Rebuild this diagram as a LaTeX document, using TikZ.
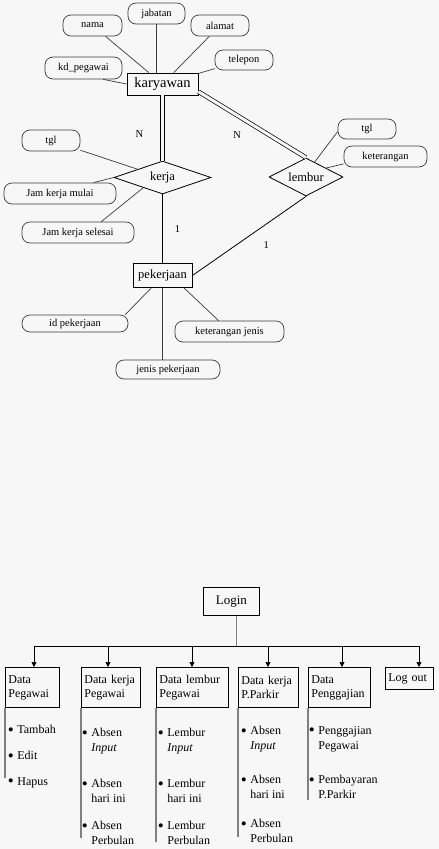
\documentclass[tikz,border=0pt]{standalone}
\usepackage{fontspec}
\setmainfont{Liberation Serif}
\usetikzlibrary{arrows.meta, shapes.geometric}
\definecolor{pagebg}{HTML}{F7F7F7}
\definecolor{linkgray}{HTML}{3C3C3C}
\definecolor{railgray}{HTML}{808080}
\newcommand{\dotitem}{\llap{\raisebox{-1.5pt}{\fontsize{17}{15}\selectfont\textbullet}\hspace{3.5pt}}}

\begin{document}
\begin{tikzpicture}[
  x=1pt, y=-1pt,
  line width=0.8pt,
  ent/.style  ={draw, rectangle, inner sep=2pt, minimum height=22pt},
  attr/.style ={draw=linkgray, rounded corners=8pt, inner sep=1pt, minimum height=21pt,
                line width=0.7pt, font=\fontsize{10.5}{12}\selectfont},
  rel/.style  ={draw, diamond, inner sep=0pt, aspect=2.5, font=\fontsize{12.5}{14}\selectfont},
  link/.style ={draw=linkgray, line width=0.7pt},
  dbl/.style  ={double=pagebg, double distance=3pt, line width=0.7pt},
  card/.style ={font=\fontsize{10.5}{12}\selectfont, inner sep=0pt},
  menu/.style ={draw, rectangle, inner sep=3pt, align=left, anchor=north west,
                font=\fontsize{12}{14}\selectfont},
  arr/.style  ={-{Triangle[length=5pt, width=5pt]}, line width=0.7pt},
  rail/.style ={draw=railgray, line width=1.6pt},
  item/.style ={anchor=north west, align=left, inner sep=0pt, font=\fontsize{12}{15}\selectfont},
]
\fill[pagebg] (0,0) rectangle (439,849);
\useasboundingbox (0,0) rectangle (439,849);

\node[ent, minimum width=71pt, font=\fontsize{14.5}{16}\selectfont] (karyawan) at (162.5,84) {karyawan};
\node[attr, minimum width=57pt] (jabatan) at (156.5,13.5) {jabatan};
\node[attr, minimum width=59pt] (nama)    at (92.5,25.5)  {nama};
\node[attr, minimum width=58pt] (alamat)  at (220,25.5)   {alamat};
\node[attr, minimum width=77pt, minimum height=22pt] (kdpeg)   at (83.5,68) {kd\_pegawai};
\node[attr, minimum width=58pt, minimum height=20pt] (telepon) at (244,60)  {telepon};

\node[rel, minimum width=97pt, minimum height=33pt] (kerja)  at (162.5,177.5) {kerja};
\node[rel, minimum width=74pt, minimum height=38pt] (lembur) at (306,177)     {lembur};

\node[attr, minimum width=58pt]  (tglkerja)   at (51,140.5) {tgl};
\node[attr, minimum width=112pt] (jammulai)   at (60,193.5) {Jam kerja mulai};
\node[attr, minimum width=112pt] (jamselesai) at (78,232.5) {Jam kerja selesai};
\node[attr, minimum width=58pt, minimum height=20pt] (tgllembur) at (367,129) {tgl};
\node[attr, minimum width=83pt]  (ketlembur)  at (385.5,156.5) {keterangan};

\node[ent, minimum width=59pt, minimum height=24pt, font=\fontsize{12.5}{14}\selectfont] (pekerjaan) at (162.5,275.5) {pekerjaan};
\node[attr, minimum width=106pt, minimum height=17pt] (idpek)    at (75,323.5)    {id pekerjaan};
\node[attr, minimum width=109pt]                      (ketjenis) at (229.5,331.5) {keterangan jenis};
\node[attr, minimum width=104pt, minimum height=19pt] (jenispek) at (168,369.5)   {jenis pekerjaan};

\draw[link] (nama) -- (karyawan);
\draw[link] (jabatan) -- (jabatan |- karyawan.north);
\draw[link] (alamat) -- (karyawan);
\draw[link] (telepon) -- (karyawan);
\draw[link] (kdpeg.-30) -- (karyawan.west);

\draw[dbl] (karyawan) -- (kerja) node[card, pos=0.6, xshift=-23pt] {N};
\draw[dbl] (karyawan.-12) -- (lembur.north) node[card, pos=0.5, xshift=-15pt, yshift=-10pt] {N};
\draw (kerja) -- (pekerjaan) node[card, pos=0.5, xshift=15pt] {1};
\draw (lembur.south) -- (pekerjaan.east) node[card, pos=0.5, xshift=17pt, yshift=-9pt] {1};

\draw[link] (tglkerja) -- (kerja);
\draw[link] (jammulai.18) -- (kerja.west);
\draw[link] (jamselesai.25) -- (kerja.-152);
\draw[link] (tgllembur.-175) -- (lembur.60);
\draw[link] (ketlembur.-170) -- (lembur.24);
\draw[link] (pekerjaan.-132) -- (idpek.10);
\draw[link] (pekerjaan.-30) -- (ketjenis.135);
\draw[link] (pekerjaan) -- (pekerjaan |- jenispek.north);

\node[menu, minimum width=56pt, minimum height=28pt, align=center, font=\fontsize{13}{15}\selectfont] (login) at (203,587) {Login};
\node[menu, text width=48pt, minimum height=40pt] (dpeg)    at (5,667)   {Data\\Pegawai};
\node[menu, text width=53pt, minimum height=40pt] (dkerja)  at (81,667)  {Data kerja\\Pegawai};
\node[menu, text width=66pt, minimum height=40pt] (dlembur) at (156,667) {Data lembur\\Pegawai};
\node[menu, text width=54pt, minimum height=40pt] (dparkir) at (238,667) {Data kerja\\P.Parkir};
\node[menu, text width=56pt, minimum height=40pt] (dgaji)   at (308,667) {Data\\Penggajian};
\node[menu, text width=42pt, minimum height=22pt] (logout)  at (385,667) {Log out};

\coordinate (hub) at (236,646);
\draw[draw=railgray] (login.south -| hub) -- (hub);
\foreach \n/\x in {dpeg/34, dkerja/108, dlembur/192, dparkir/268, dgaji/342, logout/419} {
  \coordinate (tap-\n) at (\x,646);
  \draw[arr] (tap-\n) -- (tap-\n |- \n.north);
}
\draw (tap-dpeg) -- (tap-logout);

\foreach \n/\y in {dpeg/778, dkerja/838, dlembur/842, dparkir/837, dgaji/800} {
  \coordinate (foot-\n) at (0,\y);
  \draw[rail] (\n.south west) -- (\n.south west |- foot-\n);
}

\node[item] (tambah) at (17,725) {\dotitem Tambah};
\node[item] (edit)   at (17,751) {\dotitem Edit};
\node[item] (hapus)  at (17,777) {\dotitem Hapus};

\node[item] (absenin)    at (91,728) {\dotitem Absen\\\textit{Input}};
\node[item] (absenhari)  at (91,779) {\dotitem Absen\\hari ini};
\node[item] (absenbulan) at (91,821) {\dotitem Absen\\Perbulan};

\node[item] (lemburin)    at (167,728) {\dotitem Lembur\\\textit{Input}};
\node[item] (lemburhari)  at (167,779) {\dotitem Lembur\\hari ini};
\node[item] (lemburbulan) at (167,821) {\dotitem Lembur\\Perbulan};

\node[item] (parkirin)    at (250,726) {\dotitem Absen\\\textit{Input}};
\node[item] (parkirhari)  at (250,775) {\dotitem Absen\\hari ini};
\node[item] (parkirbulan) at (250,819) {\dotitem Absen\\Perbulan};

\node[item] (gajipeg)    at (318,726) {\dotitem Penggajian\\Pegawai};
\node[item] (gajiparkir) at (318,775) {\dotitem Pembayaran\\P.Parkir};

\end{tikzpicture}
\end{document}
